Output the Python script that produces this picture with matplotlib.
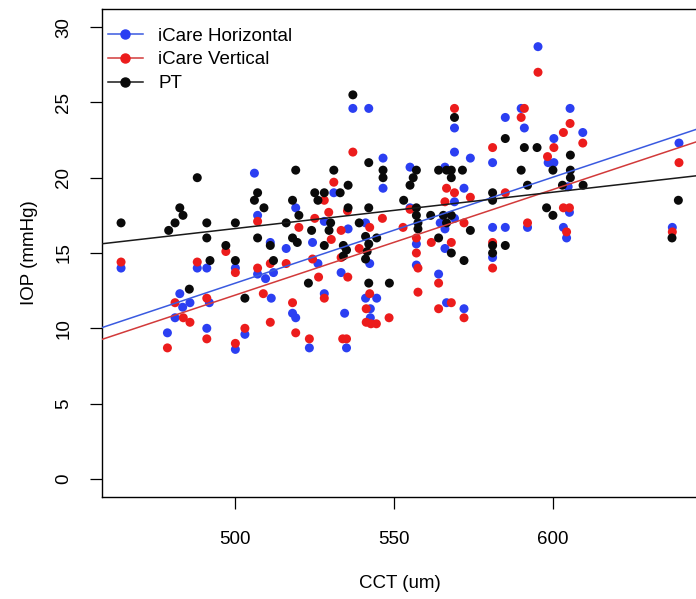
import numpy as np
import matplotlib
matplotlib.use("Agg")
from matplotlib import pyplot as plt

plt.rcParams['font.family'] = ['Liberation Sans', 'DejaVu Sans']

# central corneal thickness (um) and IOP (mmHg)
pt_cct = [464, 479, 481, 482.5, 483.5, 488, 491, 491, 492, 485.5, 497, 500, 500, 503,
          507, 506, 509, 507, 511, 512, 516, 518, 519, 518, 519.5, 520, 524, 523,
          525, 528, 526, 531, 533, 535.5, 535.5, 528, 530, 529.5, 534, 535, 534, 537,
          539, 541, 544.5, 542, 541.5, 541, 542, 548.5, 542, 542, 546.5, 546.5, 553,
          557, 557, 557.5, 557.5, 557, 556, 555, 561.5, 564, 564, 566.5, 568, 571.5,
          568, 569, 565.5, 568, 566.5, 568, 572, 574, 581, 581, 581, 581, 585, 585,
          591, 595, 590, 592, 598, 600, 600, 605.5, 605.5, 605.5, 603, 609.5, 637.5,
          639.5]
pt_iop = [17.0, 16.5, 17.0, 18.0, 17.5, 20.0, 17.0, 16.0, 14.5, 12.6, 15.5, 17.0, 14.5, 12.0,
          19.0, 18.5, 18.0, 16.0, 15.5, 14.5, 17.0, 18.5, 20.5, 16.0, 15.7, 17.5, 16.5, 13.0,
          19.0, 19.0, 18.5, 20.5, 19.0, 19.5, 18.0, 15.5, 17.0, 16.5, 15.5, 15.2, 14.8, 25.5,
          17.0, 16.1, 16.0, 15.6, 15.1, 14.6, 13.0, 13.0, 21.0, 18.0, 20.5, 20.0, 18.5,
          18.0, 17.5, 17.0, 16.6, 20.5, 20.0, 19.5, 17.5, 16.0, 20.5, 20.5, 20.5, 20.5,
          20.0, 24.0, 17.5, 17.5, 17.0, 15.0, 14.5, 16.5, 19.0, 18.5, 15.5, 15.0, 15.5, 22.6,
          22.0, 22.0, 20.5, 19.5, 18.0, 17.5, 20.5, 20.5, 21.5, 20.0, 19.5, 19.5, 16.0,
          18.5]

hor_cct = [464, 488, 491, 500, 506, 507, 507, 509.5, 511, 512, 516, 519, 482.5, 485.7,
           483.4, 491.8, 511.3, 518, 519, 481, 478.6, 491, 503, 500, 531, 537, 542, 546.5,
           546.5, 555, 566, 569, 569, 574, 581, 572, 569, 569, 555, 528, 535.5, 541, 524.3,
           526, 533.3, 542.3, 557, 557, 566, 564.5, 566, 581, 585, 581, 564, 541, 544.5,
           542.5, 542.5, 534.4, 566.5, 572, 523.3, 535, 528, 585, 590, 591, 595.3, 605.4,
           609.4, 600.3, 598.5, 600.3, 592, 603.3, 604.3, 605.2, 604.8, 637.6, 639.7]
hor_iop = [14.0, 14.0, 14.0, 14.0, 20.3, 17.5, 13.6, 13.3, 15.7, 13.7, 15.3, 18.0, 12.3, 11.7,
           11.4, 11.7, 12.0, 11.0, 10.7, 10.7, 9.7, 10.0, 9.6, 8.6, 19.0, 24.6, 24.6, 21.3,
           19.3, 20.7, 20.7, 23.3, 21.7, 21.3, 21.0, 19.3, 17.3, 18.4, 18.0, 17.1, 16.6, 17.0, 15.7,
           14.3, 13.7, 14.3, 15.6, 14.2, 15.3, 17.0, 16.6, 16.7, 16.7, 14.7, 13.6, 12.0, 12.0,
           11.3, 10.7, 11.0, 11.7, 11.3, 8.7, 8.7, 12.3, 24.0, 24.6, 23.3, 28.7, 24.6,
           23.0, 22.6, 21.0, 21.0, 16.7, 16.7, 16.0, 17.7, 19.4, 16.7, 22.3]

ver_cct = [464, 488, 497, 500, 507, 507, 511, 516, 481, 483.6, 485.7, 491, 508.8, 518, 511,
           478.6, 491, 503, 500, 519, 524.3, 526.2, 528, 528, 525, 520, 529.4, 530.2, 531,
           537, 533.3, 533.3, 535.4, 535.3, 539, 542.3, 542.3, 541.2, 541.2, 542.7, 544.4,
           548.4, 546.3, 552.8, 555, 557, 557, 557.5, 557.5, 561.7, 564, 564, 568, 572,
           523.3, 533.8, 535, 566.5, 569, 574, 566, 572, 568, 569, 581, 585, 581, 581, 590,
           591, 595.3, 605.4, 603.3, 609.4, 600.3, 598.3, 592, 603.3, 605.2, 604.3, 637.6,
           639.7]
ver_iop = [14.4, 14.4, 15.1, 13.7, 17.1, 14.0, 14.3, 14.3, 11.7, 10.7, 10.4, 12.0, 12.3, 11.7, 10.4,
           8.7, 9.3, 10.0, 9.0, 9.7, 14.6, 13.4, 12.0, 18.5, 17.3, 16.7, 17.7, 15.9, 19.7,
           21.7, 16.5, 14.7, 13.4, 17.8, 15.3, 16.7, 12.3, 11.3, 10.4, 10.3, 10.3,
           10.7, 17.3, 16.7, 17.9, 16.0, 15.0, 14.0, 12.4, 15.7, 13.0, 11.3, 11.7, 10.7,
           9.3, 9.3, 9.3, 19.3, 19.0, 18.7, 18.4, 17.0, 15.7, 24.6, 22.0, 19.0, 14.0, 15.7, 24.0,
           24.6, 27.0, 23.6, 23.0, 22.3, 22.0, 21.4, 17.0, 18.0, 18.0, 16.4, 16.4,
           21.0]

series = [
    ("iCare Horizontal", hor_cct, hor_iop, "#2b3ff2", "#3a5ae0"),
    ("iCare Vertical", ver_cct, ver_iop, "#ec1c1c", "#d23a3a"),
    ("PT", pt_cct, pt_iop, "#0a0a0a", "#1a1a1a"),
]

fig = plt.figure(figsize=(6.96, 5.99), dpi=100)
ax = fig.add_axes([102 / 696, 102 / 599, 597 / 696, 488 / 599])

for label, x, y, col, lcol in series:
    ax.scatter(x, y, s=42, color=col, edgecolors="none", zorder=2)

for label, x, y, col, lcol in series:
    slope, icpt = np.polyfit(x, y, 1)
    ax.axline((500, icpt + slope * 500), slope=slope, color=lcol, lw=1.1, zorder=3)
    ax.plot([], [], color=lcol, lw=1.1, marker="o", ms=6.5, mfc=col, mec=col,
            label=label)

ax.set_xlim(458, 646)
ax.set_ylim(-1.2, 31.2)
ax.set_xticks([500, 550, 600])
ax.set_yticks([0, 5, 10, 15, 20, 25, 30])
ax.tick_params(direction="out", length=8.5, width=0.9, labelsize=13.5)
ax.tick_params(axis="x", pad=16)
ax.tick_params(axis="y", pad=13)
for t in ax.get_yticklabels():
    t.set_rotation(90)
    t.set_va("center")
for s in ax.spines.values():
    s.set_linewidth(1.0)

fig.text(400 / 696, 1 - 583 / 599, "CCT (um)", ha="center", va="center", fontsize=13.5)
fig.text(30 / 696, 1 - 253 / 599, "IOP (mmHg)", ha="center", va="center",
         rotation=90, fontsize=13.5)

ax.legend(loc="upper left", frameon=False, fontsize=13.5, handlelength=1.9,
          handletextpad=0.8, labelspacing=0.35, borderaxespad=0.0,
          borderpad=0.3, bbox_to_anchor=(0.0, 1 - 13 / 488))

fig.savefig("out.png", dpi=100)
